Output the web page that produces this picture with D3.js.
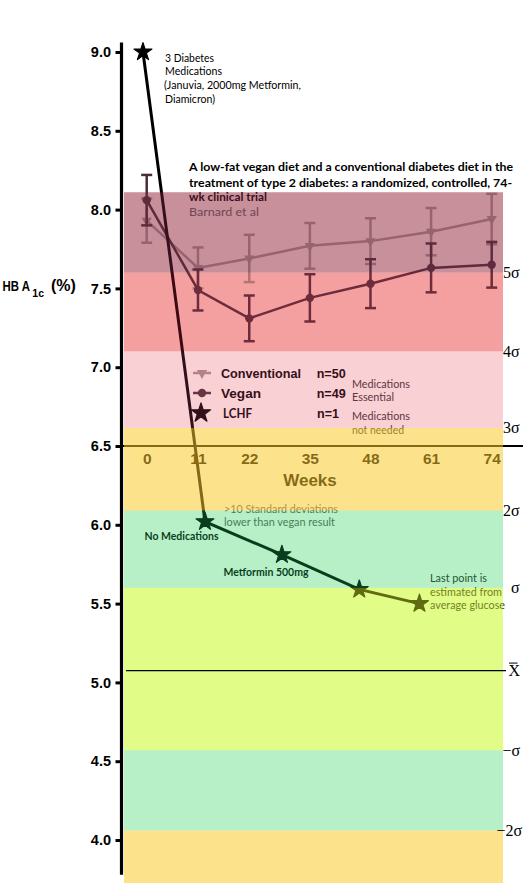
<!DOCTYPE html>
<html><head><meta charset="utf-8">
<script src="https://cdn.jsdelivr.net/npm/d3@7"></script>
<style>body{margin:0;background:#fff;overflow:hidden} svg{display:block}</style>
</head><body>
<svg id="c" width="523" height="883"></svg>
<script>
// ---------- data ----------
const weeks = [0, 11, 22, 35, 48, 61, 74];
const conventional = [7.93, 7.63, 7.69, 7.77, 7.80, 7.86, 7.94];
const conventionalErr = [0.14, 0.13, 0.15, 0.145, 0.145, 0.15, 0.16];
const vegan = [8.06, 7.49, 7.31, 7.44, 7.53, 7.63, 7.65];
const veganErr = [0.16, 0.13, 0.145, 0.15, 0.155, 0.155, 0.145];
const lchfWeeks = [-0.8, 12.5, 29, 45.6, 58.5];
const lchfValues = [9.0, 6.02, 5.81, 5.59, 5.50];
const yTicks = [4.0, 4.5, 5.0, 5.5, 6.0, 6.5, 7.0, 7.5, 8.0, 8.5, 9.0];
const bandTop = [8.11, 7.60, 7.10, 6.615, 6.09, 5.60, 4.57, 4.06];
const bandBottom = [7.60, 7.10, 6.615, 6.09, 5.60, 4.57, 4.06, 3.72];
const bandZone = ["mauve", "red", "pink", "yellow", "green", "ygreen", "green", "yellow"];
const sigmaLabels = ["5σ", "4σ", "3σ", "2σ", "σ", "X", "−σ", "−2σ"];
const sigmaValues = [7.60, 7.10, 6.615, 6.09, 5.60, 5.075, 4.57, 4.06];
const meanValue = 5.075;
const baselineValue = 6.5;
const axisTop = 9.06, axisBottom = 3.78;

// ---------- styles ----------
const zoneStyle = {
  mauve:  {T: "#c8919b", K: "#37101e"},
  red:    {T: "#f4a0a2", K: "#3c0a12"},
  pink:   {T: "#f9d0d4", K: "#32101a"},
  yellow: {T: "#fde28c", K: "#846919"},
  green:  {T: "#b8f0c8", K: "#0a3c1e"},
  ygreen: {T: "#e2fc88", K: "#5f6c0f"}
};
function rgbArr(h){ const c = d3.rgb(h); return [c.r, c.g, c.b]; }
function splitZone(z){
  const t = rgbArr(z.T), k = rgbArr(z.K);
  const m = Math.max(...[0,1,2].map(i => (t[i]-k[i])/255));
  const a = Math.max(0.02, 1 - m - 0.001);
  const O = k.map(v => Math.min(255, v/a));
  const B = [0,1,2].map(i => Math.min(255, (t[i]-k[i])/(1-a)));
  return {a, O: d3.rgb(...O).formatHex(), B: d3.rgb(...B).formatHex()};
}
const zones = {};
for (const k in zoneStyle) zones[k] = splitZone(zoneStyle[k]);

const convColor = "#a7928d";
const veganColor = "#463038";
const sans = "'Liberation Sans', Arial, sans-serif";
const hum = "Lato, 'Open Sans', sans-serif";
const serif = "'Liberation Serif', 'Times New Roman', serif";

// ---------- scales ----------
const x = d3.scaleLinear().domain([0, 74]).range([146.7, 491.7]);
const y = d3.scaleLinear().domain([4, 9]).range([840, 52]);
const bandX0 = 124, bandX1 = 503;

const svg = d3.select("#c");
const gUnder = svg.append("g");
const gContent = svg.append("g");
const gOver = svg.append("g");
const gTop = svg.append("g");

const bands = bandTop.map((t, i) => ({t, b: bandBottom[i], z: bandZone[i]}));
gUnder.selectAll("rect").data(bands).join("rect")
  .attr("x", bandX0).attr("width", bandX1 - bandX0)
  .attr("y", d => y(d.t)).attr("height", d => y(d.b) - y(d.t))
  .attr("fill", d => zones[d.z].B);

function text(g, s, px, py, o = {}) {
  const t = g.append("text").attr("x", px).attr("y", py)
    .attr("dominant-baseline", o.base || "central")
    .attr("font-family", o.font || hum)
    .attr("font-size", o.size || 11)
    .attr("font-weight", o.weight || "normal")
    .attr("fill", o.fill || "#000")
    .attr("text-anchor", o.anchor || "start")
    .text(s);
  if (o.len) t.attr("textLength", o.len).attr("lengthAdjust", "spacingAndGlyphs");
  return t;
}

// ---------- inset study title ----------
text(gContent, "A low-fat vegan diet and a conventional diabetes diet in the", 189, 166.5, {size: 11.5, weight: "bold", len: 324});
text(gContent, "treatment of type 2 diabetes: a randomized, controlled, 74-", 189, 182, {size: 11.5, weight: "bold", len: 323});
text(gContent, "wk clinical trial", 189, 196.5, {size: 11.5, weight: "bold", len: 78});
text(gContent, "Barnard et al", 189, 211.5, {size: 11.5, fill: "#606060", len: 70});

// ---------- inset x axis (weeks) ----------
gContent.append("line").attr("x1", 122).attr("x2", 523)
  .attr("y1", y(baselineValue)).attr("y2", y(baselineValue))
  .attr("stroke", "#000").attr("stroke-width", 2);
const xa = gContent.append("g").attr("transform", `translate(0,${y(baselineValue)})`)
  .call(d3.axisBottom(x).tickValues(weeks).tickSize(0).tickPadding(6.5));
xa.select(".domain").remove();
xa.selectAll("text").attr("font-family", sans).attr("font-size", 15.5)
  .attr("font-weight", "bold").attr("fill", "#000");
text(gContent, "Weeks", 310, 480, {font: sans, size: 17, weight: "bold", anchor: "middle"});

// ---------- error bars + lines ----------
function series(vals, errs, color, sym) {
  const g = gContent.append("g");
  const pts = weeks.map((w, i) => ({w, v: vals[i], e: errs[i]}));
  const eb = g.selectAll("g.eb").data(pts).join("g").attr("class", "eb")
    .attr("stroke", color).attr("stroke-width", 2.5);
  eb.append("line").attr("x1", d => x(d.w)).attr("x2", d => x(d.w))
    .attr("y1", d => y(d.v + d.e)).attr("y2", d => y(d.v - d.e));
  eb.append("line").attr("x1", d => x(d.w) - 5.5).attr("x2", d => x(d.w) + 5.5)
    .attr("y1", d => y(d.v + d.e)).attr("y2", d => y(d.v + d.e));
  eb.append("line").attr("x1", d => x(d.w) - 5.5).attr("x2", d => x(d.w) + 5.5)
    .attr("y1", d => y(d.v - d.e)).attr("y2", d => y(d.v - d.e));
  g.append("path").datum(pts)
    .attr("d", d3.line().x(d => x(d.w)).y(d => y(d.v)))
    .attr("fill", "none").attr("stroke", color).attr("stroke-width", 2.5);
  g.selectAll("path.m").data(pts).join("path").attr("class", "m")
    .attr("transform", d => `translate(${x(d.w)},${y(d.v)})${sym === "tri" ? " rotate(180)" : ""}`)
    .attr("d", sym === "tri" ? d3.symbol(d3.symbolTriangle, 45)() : d3.symbol(d3.symbolCircle, 55)())
    .attr("fill", color);
}
series(conventional, conventionalErr, convColor, "tri");
series(vegan, veganErr, veganColor, "circ");

// ---------- legend ----------
const leg = gContent.append("g");
[[373, convColor, "tri"], [393, veganColor, "circ"]].forEach(([ly, c, s]) => {
  leg.append("line").attr("x1", 193).attr("x2", 211).attr("y1", ly).attr("y2", ly)
    .attr("stroke", c).attr("stroke-width", 2.5);
  leg.append("path").attr("transform", `translate(202,${ly})${s === "tri" ? " rotate(180)" : ""}`)
    .attr("d", s === "tri" ? d3.symbol(d3.symbolTriangle, 45)() : d3.symbol(d3.symbolCircle, 55)())
    .attr("fill", c);
});
leg.append("path").attr("transform", "translate(201,413)")
  .attr("d", d3.symbol(d3.symbolStar, 115)()).attr("fill", "#000")
  .attr("stroke", "#000").attr("stroke-width", 1.2).attr("stroke-linejoin", "round");
text(leg, "Conventional", 221, 373, {font: sans, size: 13, weight: "bold", len: 80});
text(leg, "Vegan", 221, 393, {font: sans, size: 13, weight: "bold", len: 40});
text(leg, "LCHF", 223, 413, {size: 13, weight: "bold", len: 29});
text(leg, "n=50", 316.7, 373, {font: sans, size: 13, weight: "bold", len: 29});
text(leg, "n=49", 316.7, 393, {font: sans, size: 13, weight: "bold", len: 29});
text(leg, "n=1", 317, 413, {font: sans, size: 13, weight: "bold", len: 22});
text(leg, "Medications", 352, 383, {size: 11, fill: "#333", len: 58});
text(leg, "Essential", 352, 396.5, {size: 11, fill: "#333", len: 42});
text(leg, "Medications", 352, 415.5, {size: 11, fill: "#333", len: 58});
text(leg, "not needed", 352, 429, {size: 11, fill: "#333", len: 52});

// ---------- LCHF patient ----------
const lchf = lchfWeeks.map((w, i) => ({w, v: lchfValues[i]}));
gContent.append("path").datum(lchf)
  .attr("d", d3.line().x(d => x(d.w)).y(d => y(d.v)))
  .attr("fill", "none").attr("stroke", "#000").attr("stroke-width", 3);
gContent.selectAll("path.star").data(lchf).join("path").attr("class", "star")
  .attr("transform", d => `translate(${x(d.w)},${y(d.v)})`)
  .attr("d", d3.symbol(d3.symbolStar, 100)()).attr("fill", "#000")
  .attr("stroke", "#000").attr("stroke-width", 1.2).attr("stroke-linejoin", "round");

// ---------- annotations ----------
text(gContent, "3 Diabetes", 165, 57.5, {size: 10.5, len: 49});
text(gContent, "Medications", 165, 71, {size: 10.5, len: 57});
text(gContent, "(Januvia, 2000mg Metformin,", 164, 85, {size: 10.5, len: 137});
text(gContent, "Diamicron)", 165, 98.5, {size: 10.5, len: 50});
text(gContent, ">10 Standard deviations", 224, 508.5, {size: 11, fill: "#5a5a5a", len: 114});
text(gContent, "lower than vegan result", 224, 521.5, {size: 11, fill: "#5a5a5a", len: 111});
text(gContent, "No  Medications", 144.5, 535.5, {size: 11, weight: "bold", len: 74});
text(gContent, "Metformin 500mg", 223.5, 571, {size: 11, weight: "bold", len: 85});
text(gContent, "Last point is", 430, 577.5, {size: 11, fill: "#222", len: 57});
text(gContent, "estimated from", 430, 591, {size: 11, fill: "#222", len: 72});
text(gContent, "average glucose", 430, 604, {size: 11, fill: "#222", len: 75});

// ---------- translucent band overlay ----------
gOver.selectAll("rect").data(bands).join("rect")
  .attr("x", bandX0).attr("width", bandX1 - bandX0)
  .attr("y", d => y(d.t)).attr("height", d => y(d.b) - y(d.t))
  .attr("fill", d => zones[d.z].O).attr("fill-opacity", d => zones[d.z].a);

// ---------- main y axis ----------
gTop.append("line").attr("x1", 121.5).attr("x2", 121.5)
  .attr("y1", y(axisTop)).attr("y2", y(axisBottom))
  .attr("stroke", "#000").attr("stroke-width", 3.2);
const ya = gTop.append("g").attr("transform", "translate(121.5,0)")
  .call(d3.axisLeft(y).tickValues(yTicks).tickFormat(d3.format(".1f")).tickSize(6).tickPadding(4.5));
ya.select(".domain").remove();
ya.selectAll(".tick line").attr("stroke", "#000").attr("stroke-width", 3);
ya.selectAll("text").attr("font-family", sans).attr("font-size", 14.5)
  .attr("font-weight", "bold").attr("fill", "#000");

// y label (condensed main part, subscript, unit)
const ylMain = gTop.append("g").attr("transform", "translate(2.5,285.5) scale(0.76,1)");
text(ylMain, "HB A", 0, 0, {font: sans, size: 15, weight: "bold"});
text(gTop, "1c", 32.3, 293, {font: sans, size: 10.5, weight: "bold"});
text(gTop, "(%)", 51, 285.5, {font: sans, size: 16, weight: "bold"});

// mean line
gTop.append("line").attr("x1", 126).attr("x2", 506)
  .attr("y1", y(meanValue)).attr("y2", y(meanValue))
  .attr("stroke", "#000").attr("stroke-width", 1.2);

// sigma labels
const sigmaX = [503, 503, 503, 503, 511, 508.5, 502.5, 496.5];
sigmaLabels.forEach((s, i) => {
  text(gTop, s, sigmaX[i], y(sigmaValues[i]), {font: serif, size: 16});
});
gTop.append("line").attr("x1", 509).attr("x2", 517.5)
  .attr("y1", y(meanValue) - 7.5).attr("y2", y(meanValue) - 7.5)
  .attr("stroke", "#000").attr("stroke-width", 1);
</script>
</body></html>
